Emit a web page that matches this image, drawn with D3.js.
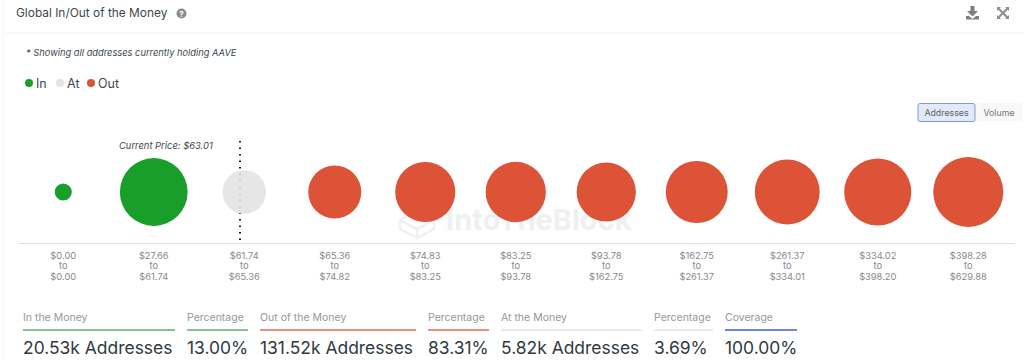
<!DOCTYPE html>
<html>
<head>
<meta charset="utf-8">
<title>Global In/Out of the Money</title>
<script src="https://cdn.jsdelivr.net/npm/d3@7"></script>
<style>
  html, body { margin: 0; padding: 0; background: #fff; }
  svg { display: block; font-family: Inter, "Noto Sans", sans-serif; }
</style>
</head>
<body>
<svg id="chart" width="1024" height="360"></svg>
<script>
// values (addresses in thousands)
const rangeFrom = ["$0.00", "$27.66", "$61.74", "$65.36", "$74.83", "$83.25", "$93.78", "$162.75", "$261.37", "$334.02", "$398.28"];
const rangeTo = ["$0.00", "$61.74", "$65.36", "$74.82", "$83.25", "$93.78", "$162.75", "$261.37", "$334.01", "$398.20", "$629.88"];
const addresses = [0.01, 20.52, 5.82, 10.5, 14.9, 15.0, 14.3, 16.2, 18.3, 20.0, 22.32];
const status = ["In", "In", "At", "Out", "Out", "Out", "Out", "Out", "Out", "Out", "Out"];
const legendKeys = ["In", "At", "Out"];

const statLabels = ["In the Money", "Percentage", "Out of the Money", "Percentage", "At the Money", "Percentage", "Coverage"];
const statValues = ["20.53k Addresses", "13.00%", "131.52k Addresses", "83.31%", "5.82k Addresses", "3.69%", "100.00%"];
const statKinds = ["In", "In", "Out", "Out", "At", "At", "Cov"];

// layout of the stat row
const statLeft = [23, 187, 260, 428, 501, 654, 725];
const statRight = [175, 248, 416, 489, 642, 713, 797];

const svg = d3.select("#chart");

const color = d3.scaleOrdinal()
  .domain(["In", "At", "Out", "Cov"])
  .range(["#1a9e2a", "#e3e3e3", "#dc5337", "#3f5fd8"]);

// header
svg.append("line").attr("x1", 3).attr("x2", 3).attr("y1", 0).attr("y2", 360).attr("stroke", "#f3f4f6");
svg.append("line").attr("x1", 3).attr("x2", 1024).attr("y1", 33).attr("y2", 33).attr("stroke", "#f3f4f6");
svg.append("text").attr("x", 16).attr("y", 16.5)
  .attr("font-size", 11.9).attr("fill", "#3c4850").text("Global In/Out of the Money");
svg.append("circle").attr("cx", 181.5).attr("cy", 13.5).attr("r", 5).attr("fill", "#8c8c8c");
svg.append("text").attr("x", 181.5).attr("y", 16.5).attr("text-anchor", "middle")
  .attr("font-size", 8).attr("font-weight", 700).attr("fill", "#fff").text("?");

// download icon
svg.append("path").attr("transform", "translate(966,6)")
  .attr("d", "M4.5 0h4v5h3.5l-5.5 5.5L1 5h3.5zM0 10h3l3.5 3 3.5-3h3v3.5H0z")
  .attr("fill", "#7a8084");
// expand icon
svg.append("path").attr("transform", "translate(1003,13)")
  .attr("d", "M-6-6h4l-1.3 1.3L0-1.6 3.3-4.7 2-6h4v4L4.7-3.3 1.600 0l3.100 3.300L6 2v4H2l1.300-1.300L0 1.600l-3.300 3.100L-2 6h-4V2l1.300 1.300L-1.600 0-4.700-3.300-6-2z")
  .attr("fill", "#8a9094");

svg.append("text").attr("x", 26).attr("y", 55.5)
  .attr("font-size", 9.3).attr("font-style", "italic").attr("fill", "#3c4850")
  .text("* Showing all addresses currently holding AAVE");

// legend
const legendX = d3.scalePoint().domain(legendKeys).range([29, 91]);
const legend = svg.append("g").selectAll("g").data(legendKeys).join("g")
  .attr("transform", d => `translate(${legendX(d)},83)`);
legend.append("circle").attr("r", 4).attr("fill", d => color(d));
legend.append("text").attr("x", 7).attr("y", 4.5)
  .attr("font-size", 12.5).attr("fill", "#3c4850").text(d => d);

// In/Out buttons
svg.append("rect").attr("x", 975).attr("y", 103).attr("width", 47).attr("height", 18)
  .attr("rx", 2).attr("fill", "#f8f8f8");
svg.append("rect").attr("x", 918).attr("y", 103.5).attr("width", 57).attr("height", 18)
  .attr("rx", 2).attr("fill", "#e3e9f7").attr("stroke", "#7f9be0");
svg.append("text").attr("x", 946.5).attr("y", 115.5).attr("text-anchor", "middle")
  .attr("font-size", 8.8).attr("fill", "#5a6570").text("Addresses");
svg.append("text").attr("x", 999).attr("y", 115.5).attr("text-anchor", "middle")
  .attr("font-size", 8.8).attr("fill", "#6f7579").text("Volume");

// watermark
const mark = svg.append("g").attr("fill", "none").attr("stroke", "#eef0f2").attr("stroke-width", 2.5);
mark.append("path").attr("d", "M400 220l17-9 17 9v9l-17 9-17-9zM400 220l17 9 17-9M417 229v9");
svg.append("text").attr("x", 446).attr("y", 230)
  .attr("font-size", 29).attr("font-weight", 700).attr("fill", "#eef0f2").text("IntoTheBlock");

// bubbles
const x = d3.scaleBand().domain(d3.range(addresses.length)).range([18, 1013.5]);
const r = d3.scaleSqrt().domain([0, d3.max(addresses)]).range([8, 35]);
const cy = 192;

// current price marker sits between the 2nd and 3rd bubble
svg.append("line").attr("x1", 240).attr("x2", 240).attr("y1", 141).attr("y2", 243)
  .attr("stroke", "#111").attr("stroke-width", 2).attr("stroke-dasharray", "1.5 5");
svg.append("text").attr("x", 119).attr("y", 149)
  .attr("font-size", 9.4).attr("font-style", "italic").attr("fill", "#3c4850").text("Current Price: $63.01");

svg.append("g").selectAll("circle").data(addresses).join("circle")
  .attr("cx", (d, i) => x(i) + x.bandwidth() / 2)
  .attr("cy", cy)
  .attr("r", d => r(d))
  .attr("fill", (d, i) => color(status[i]))
  .attr("fill-opacity", (d, i) => status[i] === "At" ? 0.9 : 1);

// x axis, three line tick labels
const axis = svg.append("g").attr("transform", "translate(0,243)")
  .call(d3.axisBottom(x).tickSize(0).tickFormat(""));
axis.select(".domain").attr("stroke", "#dcdde8");
const tickText = axis.selectAll(".tick text")
  .attr("y", 0).attr("dy", null)
  .attr("font-family", "Inter, sans-serif").attr("font-size", 9.3).attr("fill", "#85898c");
tickText.each(function (i) {
  const lines = [rangeFrom[i], "to", rangeTo[i]];
  d3.select(this).selectAll("tspan").data(lines).join("tspan")
    .attr("x", 0).attr("y", (d, j) => 15.5 + j * 10.7).text(d => d);
});

// stats row
const stat = svg.append("g").selectAll("g").data(statLabels).join("g")
  .attr("transform", (d, i) => `translate(${statLeft[i]},0)`);
stat.append("text").attr("y", 320.5).attr("font-size", 10.5).attr("fill", "#94989b").text(d => d);
stat.append("line").attr("x1", 0).attr("x2", (d, i) => statRight[i] - statLeft[i])
  .attr("y1", 330).attr("y2", 330).attr("stroke-width", 1.5)
  .attr("stroke", (d, i) => statKinds[i] === "In" ? "#62ad6b" : statKinds[i] === "Out" ? "#dd6f5c" : color(statKinds[i]));
stat.append("text").attr("y", 354).attr("font-size", 17.45).attr("fill", "#2f3a42")
  .text((d, i) => statValues[i]);
</script>
</body>
</html>
